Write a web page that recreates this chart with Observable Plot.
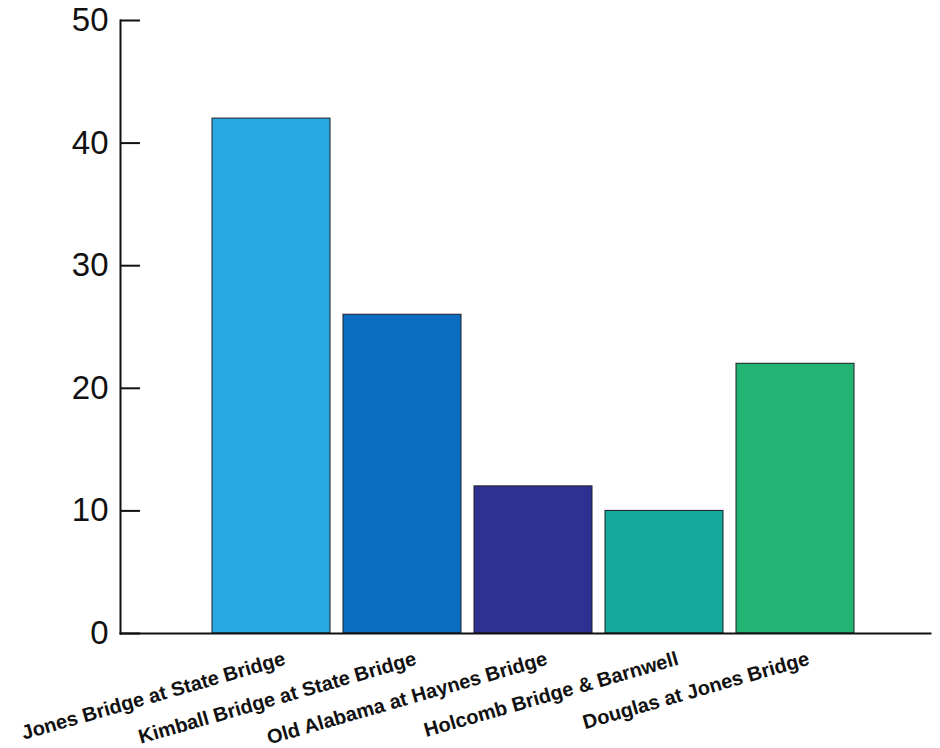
<!DOCTYPE html>
<html>
<head>
<meta charset="utf-8">
<script src="https://cdn.jsdelivr.net/npm/d3@7"></script>
<script src="https://cdn.jsdelivr.net/npm/@observablehq/plot@0.6"></script>
<style>
  html, body { margin: 0; padding: 0; background: #fff; }
  #chart svg { display: block; }
</style>
</head>
<body>
<div id="chart"></div>
<script>
const sites = [
  "Jones Bridge at State Bridge",
  "Kimball Bridge at State Bridge",
  "Old Alabama at Haynes Bridge",
  "Holcomb Bridge & Barnwell",
  "Douglas at Jones Bridge"
];
const values = [42, 26, 12, 10, 22];
const barColors = ["#27a9e1", "#0b6dbf", "#2e3191", "#13a99b", "#22b473"];
const yTicks = [0, 10, 20, 30, 40, 50];

const data = sites.map((s, i) => ({site: s, value: values[i]}));

const W = 940, H = 748;
const mL = 120, mR = 10;

const chart = Plot.plot({
  width: W,
  height: H,
  marginTop: 20,
  marginBottom: 115,
  marginLeft: mL,
  marginRight: mR,
  style: {background: "#fff", color: "#111", overflow: "visible"},
  x: {domain: sites, range: [196, 869], padding: 0.1, axis: null},
  y: {domain: [0, 50], ticks: yTicks},
  color: {domain: sites, range: barColors},
  marks: [
    Plot.barY(data, {x: "site", y: "value", fill: "site", stroke: "#1c1c2a", strokeWidth: 1}),
    Plot.ruleY(yTicks, {y: d => d, stroke: "#111", strokeWidth: 2, insetRight: W - mL - mR - 20}),
    Plot.axisY(yTicks, {tickSize: 0, tickPadding: 12, fontSize: 33, fontFamily: "Liberation Sans", fill: "#111", label: null}),
    Plot.frame({anchor: "left", stroke: "#111", strokeWidth: 2}),
    Plot.frame({anchor: "bottom", stroke: "#111", strokeWidth: 2}),
    Plot.text(sites, {
      x: d => d, text: d => d, frameAnchor: "bottom",
      rotate: -16, textAnchor: "end", dx: 15, dy: 31,
      fontSize: 20, fontWeight: "bold", fontFamily: "Liberation Sans", fill: "#111"
    })
  ]
});
document.getElementById("chart").appendChild(chart);
</script>
</body>
</html>
